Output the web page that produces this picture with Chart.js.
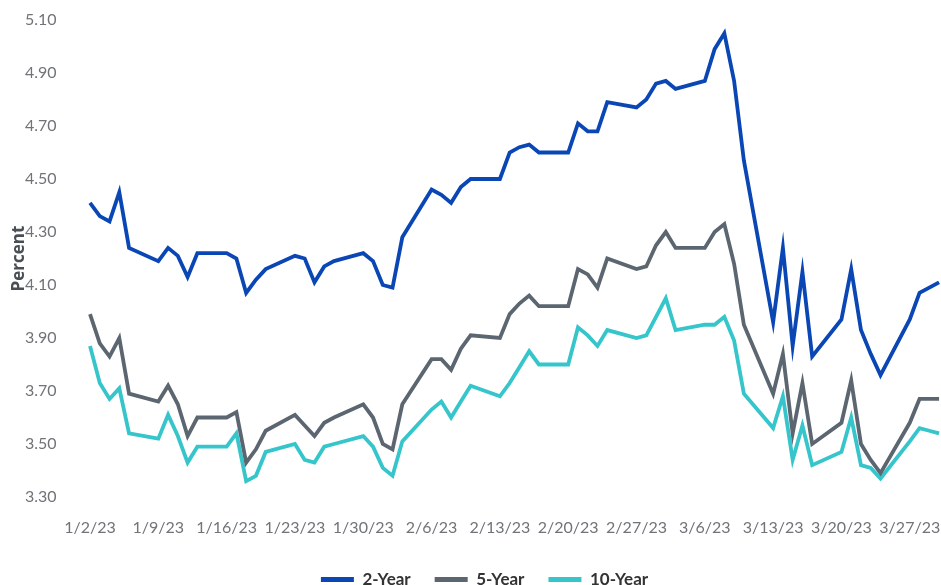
<!DOCTYPE html>
<html><head><meta charset="utf-8">
<style>html,body{margin:0;padding:0;background:#fff;overflow:hidden}#wrap{width:941px;height:600px;position:relative}</style>
<script src="https://cdn.jsdelivr.net/npm/chart.js@4.4.1/dist/chart.umd.min.js"></script>
</head><body><div id="wrap"><canvas id="c"></canvas></div>
<script>
const dates = [
 '1/2/23','1/3/23','1/4/23','1/5/23','1/6/23',
 '1/9/23','1/10/23','1/11/23','1/12/23','1/13/23',
 '1/16/23','1/17/23','1/18/23','1/19/23','1/20/23',
 '1/23/23','1/24/23','1/25/23','1/26/23','1/27/23',
 '1/30/23','1/31/23','2/1/23','2/2/23','2/3/23',
 '2/6/23','2/7/23','2/8/23','2/9/23','2/10/23',
 '2/13/23','2/14/23','2/15/23','2/16/23','2/17/23',
 '2/20/23','2/21/23','2/22/23','2/23/23','2/24/23',
 '2/27/23','2/28/23','3/1/23','3/2/23','3/3/23',
 '3/6/23','3/7/23','3/8/23','3/9/23','3/10/23',
 '3/13/23','3/14/23','3/15/23','3/16/23','3/17/23',
 '3/20/23','3/21/23','3/22/23','3/23/23','3/24/23',
 '3/27/23','3/28/23','3/29/23','3/30/23'
];
const tickLabels = ['1/2/23','1/9/23','1/16/23','1/23/23','1/30/23','2/6/23','2/13/23','2/20/23','2/27/23','3/6/23','3/13/23','3/20/23','3/27/23'];
const yTicks = [3.30,3.50,3.70,3.90,4.10,4.30,4.50,4.70,4.90,5.10];

const twoYear = [
 4.41,4.36,4.34,4.45,4.24,
 4.19,4.24,4.21,4.13,4.22,
 4.22,4.20,4.07,4.12,4.16,
 4.21,4.20,4.11,4.17,4.19,
 4.22,4.19,4.10,4.09,4.28,
 4.46,4.44,4.41,4.47,4.50,
 4.50,4.60,4.62,4.63,4.60,
 4.60,4.71,4.68,4.68,4.79,
 4.77,4.80,4.86,4.87,4.84,
 4.87,4.99,5.05,4.87,4.57,
 3.96,4.24,3.87,4.15,3.83,
 3.97,4.16,3.93,3.84,3.76,
 3.97,4.07,4.09,4.11
];
const fiveYear = [
 3.99,3.88,3.83,3.90,3.69,
 3.66,3.72,3.65,3.53,3.60,
 3.60,3.62,3.43,3.48,3.55,
 3.61,3.57,3.53,3.58,3.60,
 3.65,3.60,3.50,3.48,3.65,
 3.82,3.82,3.78,3.86,3.91,
 3.90,3.99,4.03,4.06,4.02,
 4.02,4.16,4.14,4.09,4.20,
 4.16,4.17,4.25,4.30,4.24,
 4.24,4.30,4.33,4.18,3.95,
 3.69,3.84,3.54,3.73,3.50,
 3.58,3.74,3.50,3.44,3.39,
 3.58,3.67,3.67,3.67
];
const tenYear = [
 3.87,3.73,3.67,3.71,3.54,
 3.52,3.61,3.53,3.43,3.49,
 3.49,3.54,3.36,3.38,3.47,
 3.50,3.44,3.43,3.49,3.50,
 3.53,3.49,3.41,3.38,3.51,
 3.63,3.66,3.60,3.66,3.72,
 3.68,3.73,3.79,3.85,3.80,
 3.80,3.94,3.91,3.87,3.93,
 3.90,3.91,3.98,4.05,3.93,
 3.95,3.95,3.98,3.89,3.69,
 3.56,3.68,3.44,3.57,3.42,
 3.47,3.60,3.42,3.41,3.37,
 3.51,3.56,3.55,3.54
];

function dayIndex(s){const p=s.split('/').map(Number);return (Date.UTC(2000+p[2],p[0]-1,p[1])-Date.UTC(2023,0,2))/86400000;}
const tickPos = tickLabels.map(dayIndex);
const pts = arr => arr.map((v,i)=>({x:dayIndex(dates[i]), y:v}));

const shiftLegend = {id:'shiftLegend', afterLayout(chart){ if(chart.legend){ chart.legend.left += 14; chart.legend.right += 14; } }};

const tickColor = '#707378';
new Chart(document.getElementById('c'), {
  type:'line',
  plugins:[shiftLegend],
  data:{datasets:[
    {label:'2-Year', data:pts(twoYear), borderColor:'#0a47b5', backgroundColor:'#0a47b5', borderWidth:3.8, pointRadius:0, tension:0},
    {label:'5-Year', data:pts(fiveYear), borderColor:'#5b6670', backgroundColor:'#5b6670', borderWidth:3.8, pointRadius:0, tension:0},
    {label:'10-Year', data:pts(tenYear), borderColor:'#35c5cb', backgroundColor:'#35c5cb', borderWidth:3.8, pointRadius:0, tension:0}
  ]},
  options:{
    responsive:true, maintainAspectRatio:false, animation:false,
    layout:{padding:{left:0,top:20,right:0,bottom:2}},
    plugins:{
      tooltip:{enabled:false},
      legend:{position:'bottom',
        labels:{boxWidth:33, boxHeight:5, padding:24, color:'#333', font:{family:'Lato', size:17, weight:'bold'},
          generateLabels:(chart)=>Chart.defaults.plugins.legend.labels.generateLabels(chart).map(l=>Object.assign(l,{lineWidth:0}))}}
    },
    scales:{
      x:{type:'linear', min:-2, max:87.2,
        afterBuildTicks:s=>{s.ticks = tickPos.map(v=>({value:v}));},
        ticks:{autoSkip:false, maxRotation:0, color:tickColor, font:{family:'Lato', size:16}, padding:13,
          callback:(v)=>{const i=tickPos.indexOf(v);return i>=0?tickLabels[i]:'';}},
        grid:{display:false}, border:{display:false},
        afterFit:s=>{s.height=50; s.paddingLeft=0; s.paddingRight=0;}
      },
      y:{min:3.3, max:5.1,
        afterBuildTicks:s=>{s.ticks = yTicks.map(v=>({value:v}));},
        ticks:{color:tickColor, font:{family:'Lato', size:16}, padding:6, callback:v=>Number(v).toFixed(2)},
        grid:{display:false}, border:{display:false},
        title:{display:true, text:'Percent', color:'#4a4f55', font:{family:'Open Sans', size:17, weight:'bold'}, padding:{top:9,bottom:0}},
        afterFit:s=>{s.width=70.5;}
      }
    }
  }
});
</script></body></html>
